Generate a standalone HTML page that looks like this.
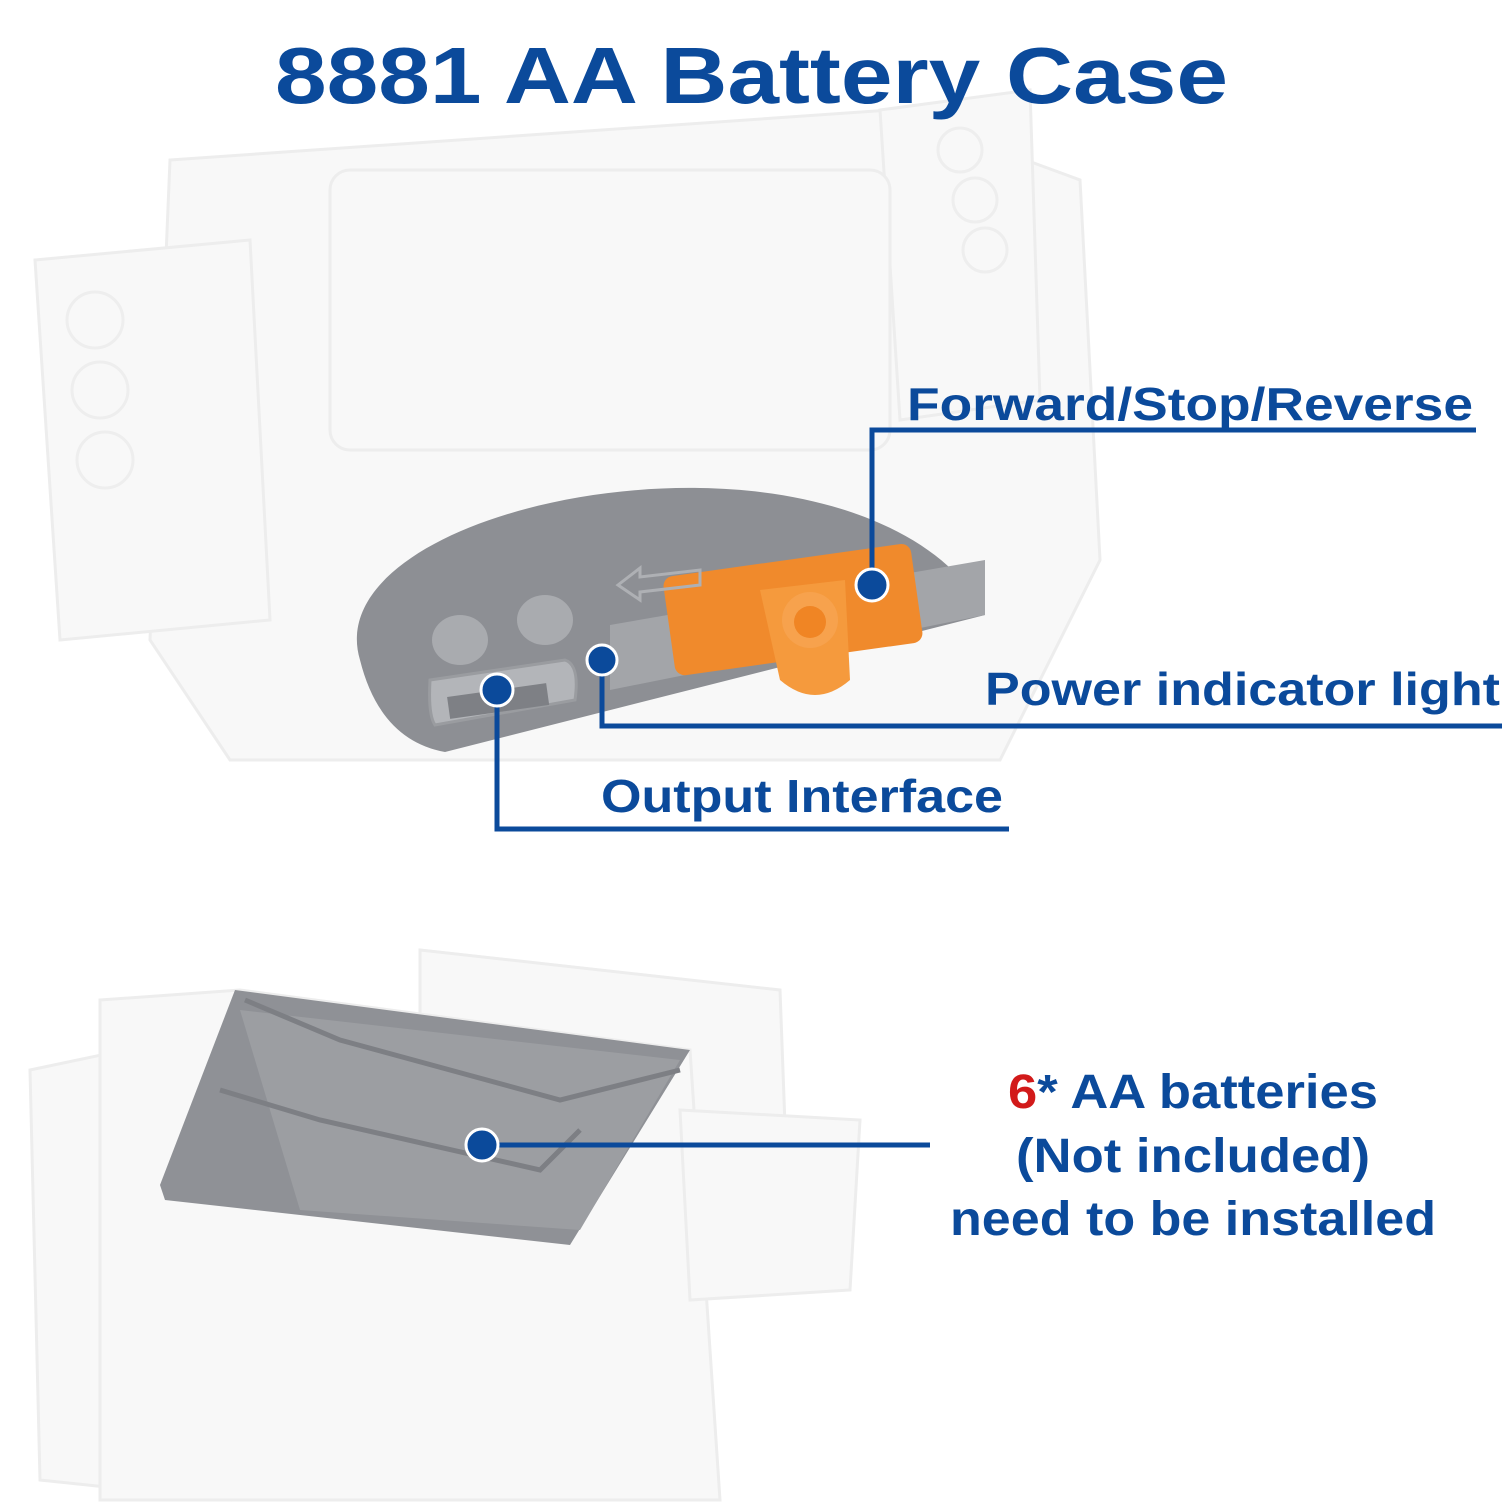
<!DOCTYPE html>
<html><head><meta charset="utf-8"><style>
html,body{margin:0;padding:0;background:#fff}
svg{display:block}
text{font-family:"Liberation Sans",sans-serif;font-weight:bold;fill:#0b4a9b}
</style></head><body>
<svg width="1504" height="1504" viewBox="0 0 1504 1504" xmlns="http://www.w3.org/2000/svg">
<rect width="1504" height="1504" fill="#fff"/>
<g fill="#f8f8f8" stroke="#ededed" stroke-width="3">
<path d="M170 160 L890 110 L1080 180 L1100 560 L1000 760 L230 760 L150 640 Z"/>
<path d="M35 260 L250 240 L270 620 L60 640 Z"/>
<path d="M880 110 L1030 90 L1040 400 L900 420 Z"/>
<rect x="330" y="170" width="560" height="280" rx="20"/>
</g>
<g fill="none" stroke="#eeeeee" stroke-width="3">
<circle cx="95" cy="320" r="28"/><circle cx="100" cy="390" r="28"/><circle cx="105" cy="460" r="28"/>
<circle cx="960" cy="150" r="22"/><circle cx="975" cy="200" r="22"/><circle cx="985" cy="250" r="22"/>
</g>
<path d="M360 660 C 330 560, 520 485, 700 488 C 840 490, 950 540, 985 615 L 445 752 Q 380 740 360 660 Z" fill="#8d8f94"/>
<path d="M610 625 L985 560 L985 615 L610 690 Z" fill="#a3a5a9"/>
<rect x="668" y="560" width="250" height="100" rx="10" fill="#f08a2c" transform="rotate(-8 790 610)"/>
<path d="M760 590 L845 580 L850 680 Q815 710 780 680 Z" fill="#f59a3d"/>
<circle cx="810" cy="620" r="28" fill="#f7a24d"/><circle cx="810" cy="622" r="16" fill="#f08524"/>
<path d="M618 585 L640 568 L640 577 L700 570 L700 585 L640 592 L640 600 Z" fill="none" stroke="#aeb0b4" stroke-width="3"/>
<ellipse cx="460" cy="640" rx="28" ry="25" fill="#a9abaf"/>
<ellipse cx="545" cy="620" rx="28" ry="25" fill="#a9abaf"/>
<path d="M430 680 L565 660 Q580 665 575 700 L435 725 Q428 715 430 680 Z" fill="#b3b5b9" stroke="#9a9ca0" stroke-width="3"/>
<rect x="448" y="690" width="100" height="22" fill="#7e8085" transform="rotate(-8 498 700)"/>
<g fill="#f8f8f8" stroke="#ededed" stroke-width="3">
<path d="M420 950 L780 990 L790 1260 L420 1240 Z"/>
<path d="M30 1070 L220 1030 L230 1500 L40 1480 Z"/>
<path d="M100 1000 L240 990 L690 1050 L720 1500 L100 1500 Z"/>
<path d="M680 1110 L860 1120 L850 1290 L690 1300 Z"/>
</g>
<path d="M160 1185 L235 990 L690 1050 L570 1245 L165 1200 Z" fill="#8f9196"/>
<path d="M240 1010 L680 1060 L580 1230 L300 1210 Z" fill="#9c9ea2"/>
<path d="M245 1000 L340 1040 L560 1100 L680 1070" fill="none" stroke="#7d7f84" stroke-width="5"/>
<path d="M220 1090 L320 1120 L540 1170 L580 1130" fill="none" stroke="#7d7f84" stroke-width="5"/>
<text x="275" y="103" font-size="80" textLength="953" lengthAdjust="spacingAndGlyphs">8881 AA Battery Case</text>
<g stroke="#0b4a9b" stroke-width="5" fill="none">
<path d="M872 585 L872 430 L1476 430"/>
<path d="M602 660 L602 726 L1502 726"/>
<path d="M497 690 L497 829 L1009 829"/>
<path d="M482 1145 L930 1145"/>
</g>
<g fill="#0b4a9b" stroke="#fff" stroke-width="3">
<circle cx="872" cy="585" r="16"/><circle cx="602" cy="660" r="15"/><circle cx="497" cy="690" r="16"/><circle cx="482" cy="1145" r="16"/>
</g>
<text x="907" y="420" font-size="46" textLength="566" lengthAdjust="spacingAndGlyphs">Forward/Stop/Reverse</text>
<text x="985" y="705" font-size="46" textLength="515" lengthAdjust="spacingAndGlyphs">Power indicator light</text>
<text x="601" y="812" font-size="46" textLength="402" lengthAdjust="spacingAndGlyphs">Output Interface</text>
<g font-size="48">
<text x="1008" y="1108" textLength="370" lengthAdjust="spacingAndGlyphs"><tspan fill="#d21a1a">6</tspan>* AA batteries</text>
<text x="1016" y="1172" textLength="354" lengthAdjust="spacingAndGlyphs">(Not included)</text>
<text x="950" y="1235" textLength="486" lengthAdjust="spacingAndGlyphs">need to be installed</text>
</g>
</svg>
</body></html>
